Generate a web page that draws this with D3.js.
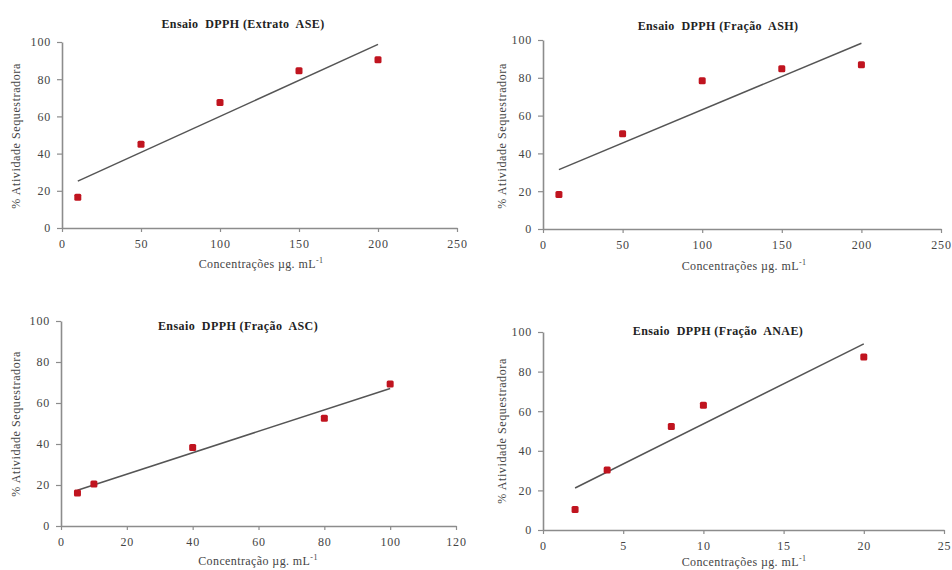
<!DOCTYPE html>
<html><head><meta charset="utf-8">
<script src="https://cdn.jsdelivr.net/npm/d3@7"></script>
<style>
html,body{margin:0;padding:0;background:#fff;}
svg text{font-family:"Liberation Serif","Times New Roman",serif;}
</style></head>
<body>
<svg id="c" width="952" height="570"></svg>
<script>
// ---- data ----
const titles = ["Ensaio  DPPH (Extrato  ASE)", "Ensaio  DPPH (Fração  ASH)", "Ensaio  DPPH (Fração  ASC)", "Ensaio  DPPH (Fração  ANAE)"];
const xAxisTitles = ["Concentrações µg. mL", "Concentrações µg. mL", "Concentração µg. mL", "Concentrações µg. mL"];
const yAxisTitle = "% Atividade Sequestradora";

const concASE = [10, 50, 100, 150, 200];
const actASE = [16.5, 45, 67.5, 84.5, 90.5];
const trendASE = [25.2, 98.7];

const concASH = [10, 50, 100, 150, 200];
const actASH = [18.3, 50.4, 78.5, 84.8, 86.9];
const trendASH = [31.4, 98.3];

const concASC = [5, 10, 40, 80, 100];
const actASC = [16.1, 20.5, 38.3, 52.6, 69.3];
const trendASC = [17.4, 67.1];

const concANAE = [2, 4, 8, 10, 20];
const actANAE = [10.4, 30.3, 52.3, 63, 87.4];
const trendANAE = [21.2, 94.0];

const xMaxes = [250, 250, 120, 25];
const xTickSteps = [50, 50, 20, 5];
const yTickValues = [0, 20, 40, 60, 80, 100];

// ---- layout ----
const panels = [
  {conc: concASE, act: actASE, trend: trendASE, x0: 62, x1: 457, yT: 42, yB: 228, tx: 243, ty: 25, lx: 261, ly: 265, yx: 17, yy: 136},
  {conc: concASH, act: actASH, trend: trendASH, x0: 543, x1: 941, yT: 40, yB: 229, tx: 718, ty: 27, lx: 744, ly: 267, yx: 503, yy: 136},
  {conc: concASC, act: actASC, trend: trendASC, x0: 61, x1: 456, yT: 321, yB: 526, tx: 238, ty: 327, lx: 258, ly: 562, yx: 17, yy: 424},
  {conc: concANAE, act: actANAE, trend: trendANAE, x0: 543, x1: 944, yT: 332, yB: 530, tx: 718, ty: 332, lx: 744, ly: 563, yx: 503, yy: 431}
];

const svg = d3.select("#c");
const axisCol = "#8c8c8c", textCol = "#444";

panels.forEach((p, i) => {
  const x = d3.scaleLinear().domain([0, xMaxes[i]]).range([p.x0, p.x1]);
  const y = d3.scaleLinear().domain([0, 100]).range([p.yB, p.yT]);
  const g = svg.append("g");

  const xt = d3.range(0, xMaxes[i] + 1e-9, xTickSteps[i]);
  const xa = g.append("g").attr("transform", `translate(0,${p.yB})`)
    .call(d3.axisBottom(x).tickValues(xt).tickSize(4).tickPadding(7).tickSizeOuter(0));
  const ya = g.append("g").attr("transform", `translate(${p.x0},0)`)
    .call(d3.axisLeft(y).tickValues(yTickValues).tickSize(5).tickPadding(6).tickSizeOuter(0));
  [xa, ya].forEach(a => {
    a.select(".domain").attr("stroke", axisCol).attr("stroke-width", 1.6);
    a.selectAll(".tick line").attr("stroke", axisCol).attr("stroke-width", 1.2);
    a.selectAll(".tick text").attr("fill", textCol).style("font-size", "12px").style("letter-spacing", "0.8px");
  });

  // trend line
  const lx = [p.conc[0], p.conc[p.conc.length - 1]];
  g.append("line")
    .attr("x1", x(lx[0])).attr("y1", y(p.trend[0]))
    .attr("x2", x(lx[1])).attr("y2", y(p.trend[1]))
    .attr("stroke", "#555").attr("stroke-width", 1.5);

  // points
  g.selectAll("rect.pt").data(p.conc.map((c, k) => [c, p.act[k]])).enter()
    .append("rect").attr("class", "pt")
    .attr("x", d => x(d[0]) - 3.5).attr("y", d => y(d[1]) - 3.5)
    .attr("width", 7).attr("height", 7).attr("rx", 1.5)
    .attr("fill", "#c0141f");

  // title
  g.append("text").attr("x", p.tx).attr("y", p.ty).attr("text-anchor", "middle")
    .attr("dominant-baseline", "middle").style("white-space", "pre")
    .style("font-size", "12px").style("font-weight", "bold").style("letter-spacing", "0.4px").attr("fill", "#222")
    .text(titles[i]);

  // x axis title
  const xl = g.append("text").attr("x", p.lx).attr("y", p.ly).attr("text-anchor", "middle")
    .attr("dominant-baseline", "middle").style("font-size", "12px").style("letter-spacing", "0.4px").attr("fill", textCol);
  xl.append("tspan").text(xAxisTitles[i]);
  xl.append("tspan").attr("dy", -4).style("font-size", "8px").text("-1");

  // y axis title
  g.append("text").attr("transform", `translate(${p.yx},${p.yy}) rotate(-90)`)
    .attr("text-anchor", "middle").attr("dominant-baseline", "middle")
    .style("font-size", "12px").style("letter-spacing", "0.6px").attr("fill", textCol).text(yAxisTitle);
});
</script>
</body></html>
